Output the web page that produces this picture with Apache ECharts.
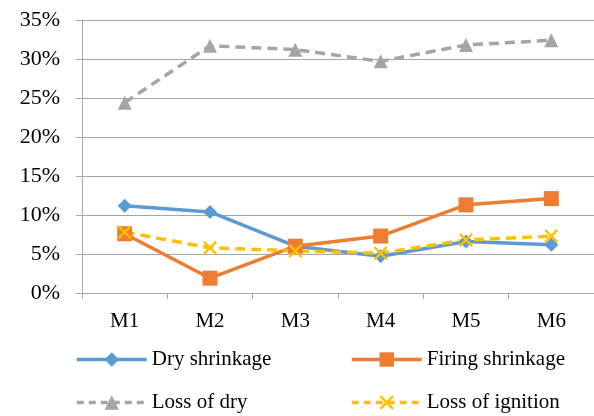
<!DOCTYPE html>
<html><head><meta charset="utf-8">
<script src="https://cdn.jsdelivr.net/npm/echarts@6/dist/echarts.min.js"></script>
<style>html,body{margin:0;padding:0;background:#fff}#c{width:594px;height:416px}</style>
</head><body><div id="c"></div>
<script>
const categories = ['M1','M2','M3','M4','M5','M6'];
const dryShrinkage = [11.2, 10.4, 6.0, 4.7, 6.6, 6.2];
const firingShrinkage = [7.6, 1.9, 6.0, 7.3, 11.3, 12.1];
const lossOfDry = [24.4, 31.7, 31.2, 29.7, 31.8, 32.4];
const lossOfIgnition = [7.8, 5.8, 5.4, 5.1, 6.8, 7.3];
const yTicks = [0, 5, 10, 15, 20, 25, 30, 35];

const font = 'Liberation Serif, Times New Roman, serif';
const xPath = 'path://M0,1.2L1.2,0L5,3.8L8.8,0L10,1.2L6.2,5L10,8.8L8.8,10L5,6.2L1.2,10L0,8.8L3.8,5Z';

const chart = echarts.init(document.getElementById('c'));
function leg(name, left, top, dashed) {
  return {
    data: [name], left: left, top: top, itemWidth: 70, itemHeight: 18, itemGap: 0, padding: 0,
    lineStyle: { width: 3.5, type: dashed ? [7, 5] : 'solid' },
    textStyle: { fontFamily: font, fontSize: 21, color: '#000' }
  };
}
chart.setOption({
  animation: false,
  grid: { left: 82, top: 20, width: 515, height: 273 },
  legend: [
    leg('Dry shrinkage', 75, 349, false),
    leg('Firing shrinkage', 350, 349, false),
    leg('Loss of dry', 75, 392, true),
    leg('Loss of ignition', 350, 392, true)
  ],
  xAxis: {
    type: 'category', data: categories, boundaryGap: true,
    axisLine: { lineStyle: { color: '#A6A6A6', width: 1 } },
    axisTick: { show: true, length: 6, lineStyle: { color: '#A6A6A6' } },
    axisLabel: { fontFamily: font, fontSize: 21, color: '#000', margin: 18 }
  },
  yAxis: {
    type: 'value', min: 0, max: 35, interval: 5,
    axisLine: { show: true, lineStyle: { color: '#A6A6A6', width: 1 } },
    axisTick: { show: true, length: 6, lineStyle: { color: '#A6A6A6' } },
    splitLine: { lineStyle: { color: '#A6A6A6', width: 1 } },
    axisLabel: { fontFamily: font, fontSize: 22, color: '#000', margin: 22,
      formatter: v => yTicks.includes(v) ? v + '%' : '' }
  },
  series: [
    { name: 'Dry shrinkage', type: 'line', data: dryShrinkage, symbol: 'diamond', symbolSize: 14,
      lineStyle: { color: '#5B9BD5', width: 3.5 }, itemStyle: { color: '#5B9BD5' } },
    { name: 'Firing shrinkage', type: 'line', data: firingShrinkage, symbol: 'rect', symbolSize: 15,
      lineStyle: { color: '#ED7D31', width: 3.5 }, itemStyle: { color: '#ED7D31' } },
    { name: 'Loss of dry', type: 'line', data: lossOfDry, symbol: 'triangle', symbolSize: 14,
      lineStyle: { color: '#A5A5A5', width: 3.5, type: [10, 6] }, itemStyle: { color: '#A5A5A5' } },
    { name: 'Loss of ignition', type: 'line', data: lossOfIgnition, symbol: xPath, symbolSize: 14,
      lineStyle: { color: '#FFC000', width: 3.5, type: [10, 6] }, itemStyle: { color: '#FFC000' } }
  ]
});
</script></body></html>
